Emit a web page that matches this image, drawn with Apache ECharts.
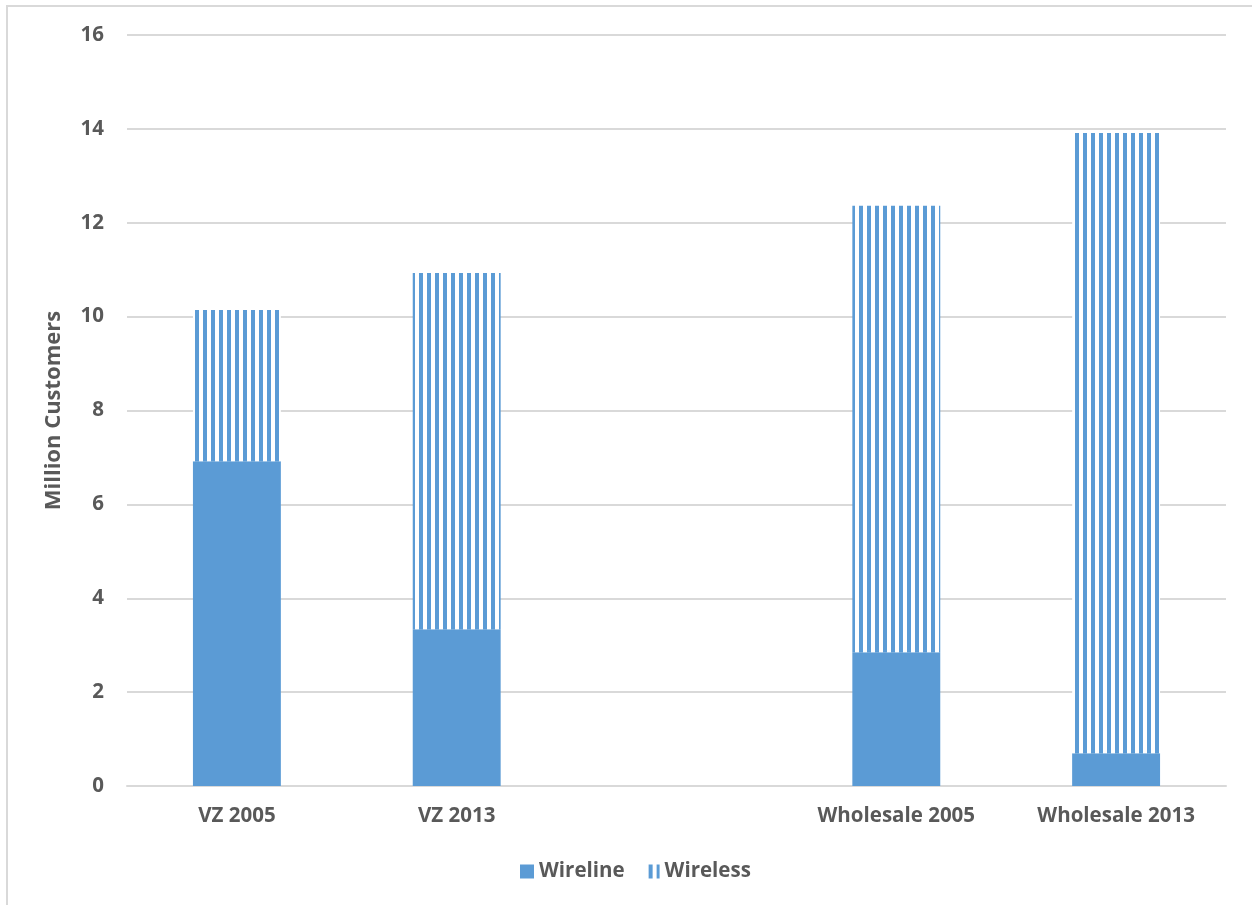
<!DOCTYPE html>
<html>
<head>
<meta charset="utf-8">
<script src="https://cdn.jsdelivr.net/npm/echarts@6/dist/echarts.min.js"></script>
<style>
  html, body { margin: 0; padding: 0; background: #fff; overflow: hidden; }
  #frame {
    position: absolute; left: 6px; top: 5px; width: 1400px; height: 1100px;
    border: 2px solid #d9d9d9; box-sizing: border-box;
  }
  #chart { position: absolute; left: 0; top: 0; width: 1252px; height: 905px; }
</style>
</head>
<body>
<div id="frame"></div>
<div id="chart"></div>
<script>
// categories (blank slot between the two groups)
const categories = ['VZ 2005', 'VZ 2013', '', 'Wholesale 2005', 'Wholesale 2013']
// million customers
const wireline = [6.92, 3.34, '-', 2.85, 0.70]
const wireless = [3.22, 7.59, '-', 9.51, 13.21]
const yTicks = [0, 2, 4, 6, 8, 10, 12, 14, 16]

const blue = '#5b9bd5'
const textColor = '#595959'
const font = '"Open Sans", "Liberation Sans", sans-serif'

// vertical stripe pattern for the wireless part
function stripePattern() {
  const c = document.createElement('canvas')
  c.width = 8
  c.height = 8
  const ctx = c.getContext('2d')
  ctx.fillStyle = '#ffffff'
  ctx.fillRect(0, 0, 8, 8)
  ctx.fillStyle = blue
  ctx.fillRect(3, 0, 4, 8)
  return c
}

const chart = echarts.init(document.getElementById('chart'))

const option = {
  backgroundColor: 'transparent',
  animation: false,
  grid: {
    left: 127,
    right: 26,
    top: 35,
    bottom: 119
  },
  legend: {
    bottom: 18,
    left: 515,
    itemWidth: 14,
    itemHeight: 14,
    itemGap: 21,
    icon: 'rect',
    textStyle: {
      color: textColor,
      fontFamily: font,
      fontWeight: 'bold',
      fontSize: 20.5
    },
    data: ['Wireline', 'Wireless']
  },
  xAxis: {
    type: 'category',
    data: categories,
    axisLine: { lineStyle: { color: '#d9d9d9', width: 2 } },
    axisTick: { show: false },
    axisLabel: {
      color: textColor,
      fontFamily: font,
      fontWeight: 'bold',
      fontSize: 20.5,
      margin: 20
    }
  },
  yAxis: {
    type: 'value',
    min: yTicks[0],
    max: yTicks[yTicks.length - 1],
    interval: 2,
    name: 'Million Customers',
    nameLocation: 'middle',
    nameGap: 62,
    nameTextStyle: {
      color: textColor,
      fontFamily: font,
      fontWeight: 'bold',
      fontSize: 22
    },
    axisLine: { show: false },
    axisTick: { show: false },
    axisLabel: {
      color: textColor,
      fontFamily: font,
      fontWeight: 'bold',
      fontSize: 20.5,
      margin: 23
    },
    splitLine: { lineStyle: { color: '#d9d9d9', width: 2 } }
  },
  series: [
    {
      name: 'Wireline',
      type: 'bar',
      stack: 'total',
      barWidth: '40%',
      data: wireline,
      itemStyle: { color: blue }
    },
    {
      name: 'Wireless',
      type: 'bar',
      stack: 'total',
      barWidth: '40%',
      data: wireless,
      itemStyle: {
        color: { image: stripePattern(), repeat: 'repeat' }
      }
    }
  ]
}

chart.setOption(option)
</script>
</body>
</html>
